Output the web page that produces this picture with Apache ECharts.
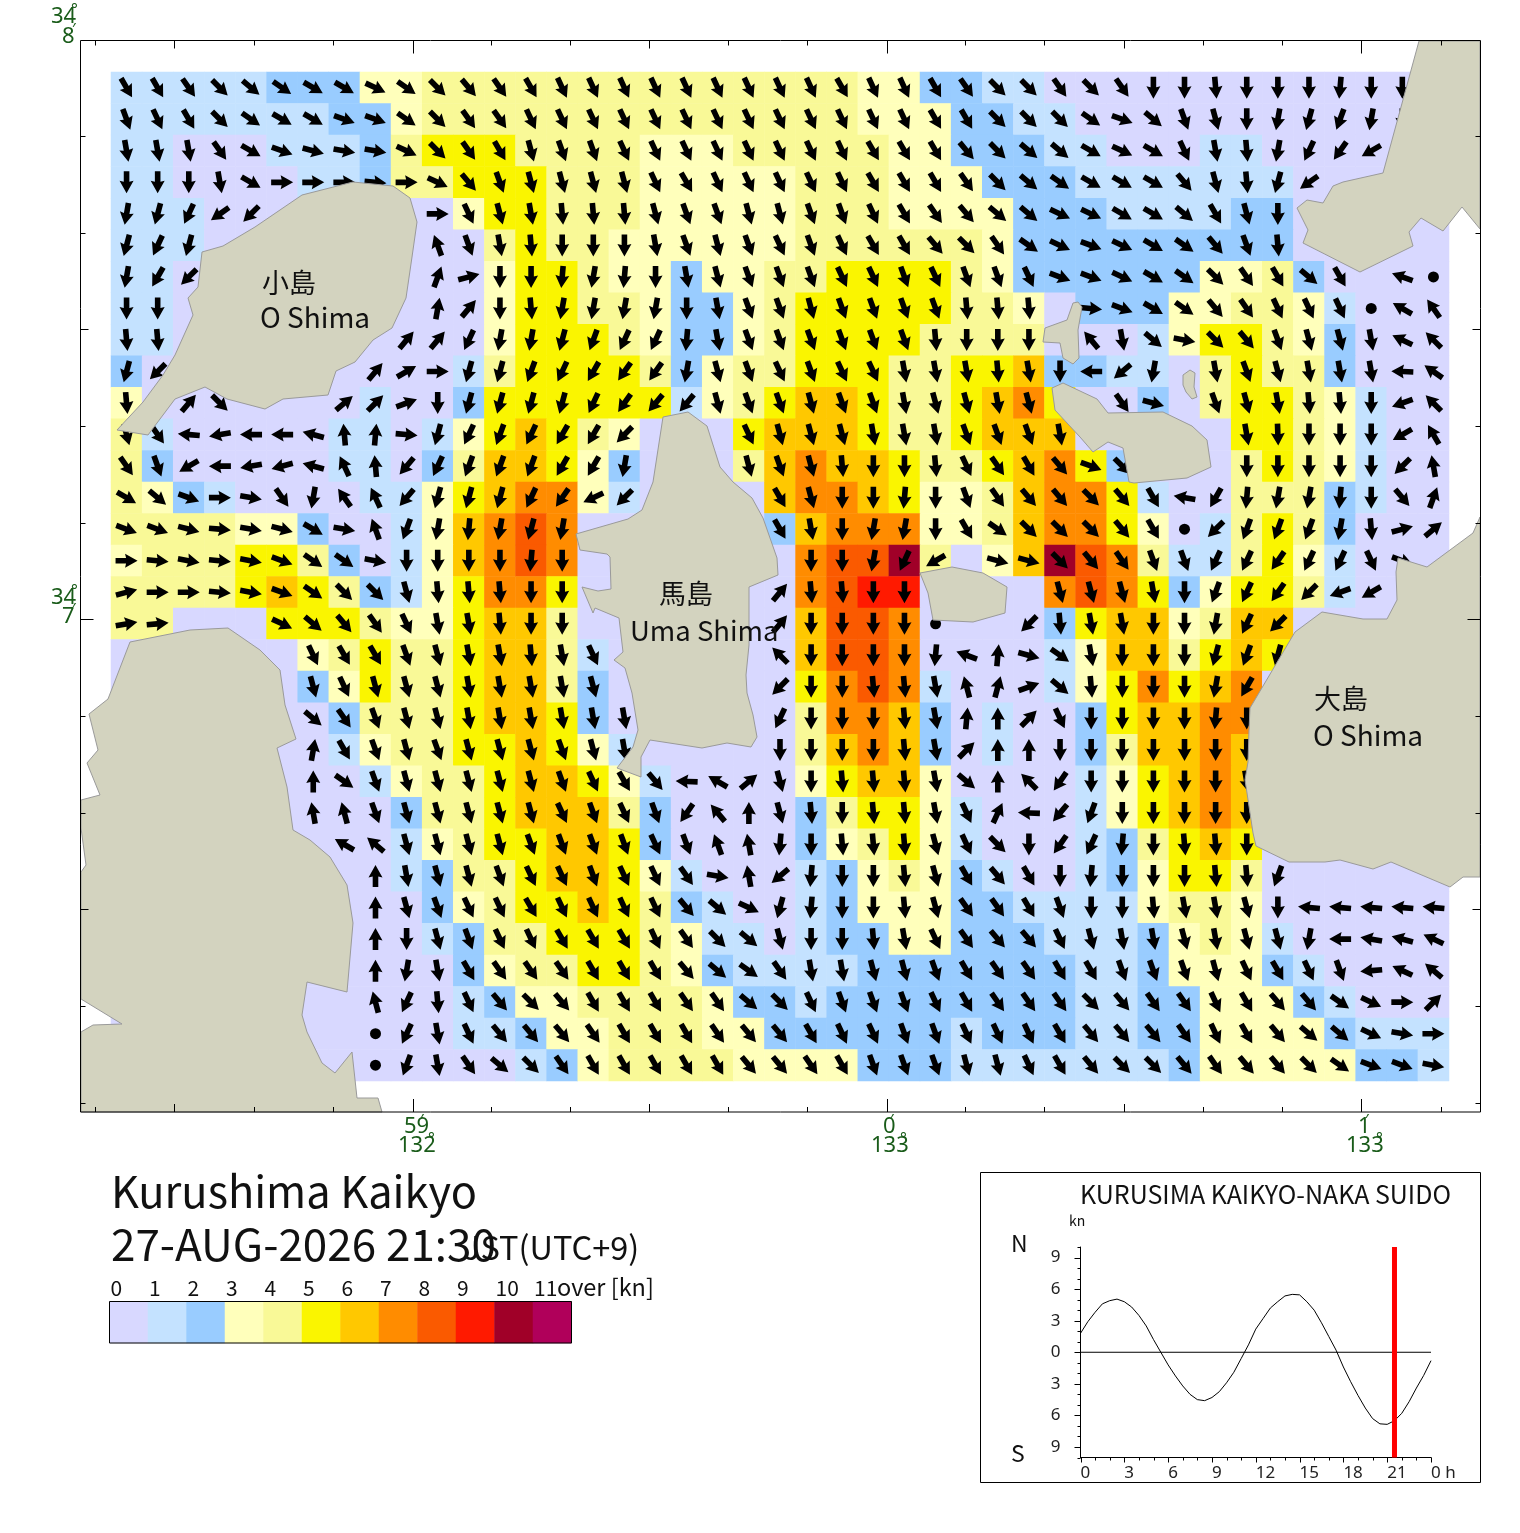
<!DOCTYPE html>
<html><head><meta charset="utf-8">
<style>html,body{margin:0;padding:0;background:#fff}#c{width:1520px;height:1533px}</style>
<script src="https://cdn.jsdelivr.net/npm/echarts@6/dist/echarts.min.js"></script>
</head><body><div id="c"></div>
<script>
const levelColors=['#D8D8FF','#C4E2FF','#99CCFF','#FFFFBB','#F9F997','#FAF500','#FFC800','#FF8C00','#FA5A00','#FF1A00','#A00028','#B0005A'];
const levelLabels=['0','1','2','3','4','5','6','7','8','9','10','11'];
// speed class per cell, row by row (a = class 10)
const speedRows=[
"1111122233444444444444443322110000000000000",
"1111111223444444444444443332211000000000000",
"1100011124555444433344444332221100011000000",
"1100001124455544433333444333222111111100000",
"1110000000035544433333444333322211112200000",
"1110000000004544333333444444322222222200000",
"1100000000003554332334455554322222233420000",
"1100000000003554432234555554430222334431000",
"1100000000003555432234555544440001355432000",
"2000000000014555542344555445562211045442000",
"3000000010025555551345665445675002045543100",
"4100000110135654300056665445666000005543100",
"4200000110246653200046766544567520004543100",
"4321000011356773100006776533467751004442100",
"4444332001367870000002677733467753014542000",
"3444554201367870000000788a4036a874114531000",
"4444565421357750000000789900007875235541000",
"4400055543356640000000688700002566346600000",
"0000003454456641000000688700001366456500000",
"0000002354456642000000578710001357567000000",
"0000000244456652000000477620100256677000000",
"0000000134455653100000467620100246676000000",
"0000000013445665310000356630000135676000000",
"0000000002445666420000245531000135676000000",
"0000000001345566520000234531000124565000000",
"0000000001244566531000123432100123554000000",
"0000000000234556542100123332211113443000000",
"0000000000124455543110122332221112343100000",
"0000000000023445543211112222222112333210000",
"0000000000012334444322122222222112233321000",
"0000000000011233444332222221222112233332111",
"0000000000000123444433332221111111233333221"
];
const _=null,O=-1; // O = slack water dot, _ = no arrow; others: heading in degrees
const dirRow00=[150,150,145,135,130,125,120,120,115,125,135,140,145,150,155,155,155,155,155,155,155,155,155,150,155,155,150,145,135,135,145,135,145,180,180,175,180,180,180,185,180,180,_];
const dirRow01=[160,155,150,135,125,120,120,110,110,125,135,145,145,155,155,155,155,155,155,155,155,155,155,155,155,155,150,150,135,135,135,125,110,130,160,165,180,190,195,200,190,180,_];
const dirRow02=[170,170,170,145,120,110,105,100,100,115,135,145,150,165,160,160,155,155,155,155,155,155,155,155,150,150,150,140,135,130,130,120,115,120,155,170,175,190,205,215,240,_,_];
const dirRow03=[180,180,180,170,120,90,90,90,95,90,115,140,160,165,165,165,165,155,150,155,155,155,155,155,150,150,150,145,135,130,125,120,120,120,140,165,175,195,235,_,_,_,_];
const dirRow04=[190,195,205,235,225,_,_,_,_,_,90,155,165,170,175,175,175,165,160,160,165,165,160,160,155,150,145,140,130,130,115,115,120,120,130,150,165,180,_,_,_,_,_];
const dirRow05=[195,205,195,_,_,_,_,_,_,_,340,160,170,175,180,180,180,170,160,165,160,155,160,155,150,150,140,135,145,125,115,110,115,120,125,140,160,175,_,_,_,_,_];
const dirRow06=[190,210,225,_,_,_,_,_,_,_,20,75,180,180,185,190,185,180,170,165,160,160,160,155,155,160,155,160,160,155,110,110,115,120,125,135,145,150,130,150,_,290,O];
const dirRow07=[180,180,_,_,_,_,_,_,_,_,10,40,180,175,190,190,190,190,180,170,160,160,165,160,160,160,160,175,175,175,_,95,110,120,125,140,145,155,155,155,O,300,325];
const dirRow08=[175,175,_,_,_,_,_,_,_,40,40,205,190,190,195,200,205,205,185,170,160,160,160,160,160,160,175,180,180,180,_,320,170,130,100,135,140,160,165,165,170,295,315];
const dirRow09=[195,225,_,_,_,_,_,_,40,60,90,195,195,200,205,210,215,215,190,165,160,155,160,155,155,170,170,170,175,170,180,270,230,190,_,170,160,165,170,170,170,272,305];
const dirRow10=[175,_,40,135,_,_,_,50,45,70,180,195,195,195,195,205,215,220,220,165,160,160,165,160,160,170,165,165,170,165,_,_,145,105,_,160,165,170,175,175,180,250,315];
const dirRow11=[165,145,275,260,270,270,285,355,5,95,195,205,200,205,210,210,225,_,_,_,155,165,165,165,170,170,170,160,160,160,170,_,_,_,_,_,170,178,180,180,180,240,330];
const dirRow12=[145,160,240,270,260,255,285,335,355,220,205,200,200,200,210,210,190,_,_,_,165,160,165,175,180,180,175,155,145,150,140,110,135,_,_,_,180,180,180,180,180,225,350];
const dirRow13=[120,130,110,90,100,145,190,325,335,220,195,195,195,205,215,245,225,_,_,_,_,150,165,180,180,185,180,160,145,140,140,135,140,150,280,210,185,190,190,185,180,140,20];
const dirRow14=[110,110,105,95,100,105,120,100,340,200,190,185,190,195,190,_,_,_,_,_,_,150,170,180,190,190,180,150,125,135,135,135,140,150,O,225,200,200,200,190,175,75,50];
const dirRow15=[90,95,100,95,100,110,125,125,100,180,180,180,180,185,180,_,_,_,_,_,_,_,180,180,190,205,240,_,105,105,135,140,145,160,160,205,205,215,205,205,155,110,_];
const dirRow16=[75,90,90,95,100,110,125,135,135,165,175,175,175,180,180,_,_,_,_,_,_,40,175,175,180,180,_,_,_,_,165,165,165,170,180,200,205,215,225,250,240,_,_];
const dirRow17=[80,85,_,_,_,115,130,140,145,155,170,170,175,180,180,_,_,_,_,_,_,40,180,180,180,180,O,_,_,225,175,170,170,180,180,190,205,225,_,_,_,_,_];
const dirRow18=[_,_,_,_,_,_,155,150,150,160,165,170,170,175,170,155,_,_,_,_,_,315,180,180,180,180,185,290,5,105,125,170,180,180,180,195,200,195,_,_,_,_,_];
const dirRow19=[_,_,_,_,_,_,165,155,165,165,165,170,170,170,170,165,_,_,_,_,_,225,180,180,175,175,170,345,15,70,130,175,180,180,180,190,210,_,_,_,_,_,_];
const dirRow20=[_,_,_,_,_,_,130,145,160,165,165,170,170,170,170,170,170,_,_,_,_,205,180,180,180,175,170,5,0,45,155,180,180,180,180,185,180,_,_,_,_,_,_];
const dirRow21=[_,_,_,_,_,_,10,150,160,165,160,165,165,165,160,165,170,_,_,_,_,180,180,180,180,175,170,45,0,0,180,180,180,180,180,180,180,_,_,_,_,_,_];
const dirRow22=[_,_,_,_,_,_,0,125,160,165,165,165,165,165,160,155,150,140,272,300,50,165,180,175,175,175,170,130,0,315,215,180,180,180,180,180,170,_,_,_,_,_,_];
const dirRow23=[_,_,_,_,_,_,350,345,160,165,165,165,165,165,155,160,155,160,215,320,0,165,175,180,175,175,170,155,25,272,220,200,180,180,180,180,180,_,_,_,_,_,_];
const dirRow24=[_,_,_,_,_,_,_,300,310,165,165,165,165,160,160,160,160,155,160,340,350,185,180,175,175,175,165,155,135,180,215,205,185,180,175,175,180,_,_,_,_,_,_];
const dirRow25=[_,_,_,_,_,_,_,_,0,170,165,165,160,155,155,160,155,155,145,100,350,230,185,180,180,175,165,150,140,150,180,185,180,180,180,175,175,200,_,_,_,_,_];
const dirRow26=[_,_,_,_,_,_,_,_,0,165,160,155,155,150,155,155,155,155,140,130,115,195,185,180,180,175,165,145,145,150,160,180,180,175,170,170,165,180,275,275,275,275,275];
const dirRow27=[_,_,_,_,_,_,_,_,0,180,165,160,155,155,150,150,150,155,145,135,130,165,180,180,175,170,155,145,140,140,155,165,170,170,165,170,165,165,190,270,280,285,295];
const dirRow28=[_,_,_,_,_,_,_,_,0,190,170,150,145,145,145,150,150,150,140,130,125,145,170,170,165,165,160,150,145,145,150,150,160,160,160,165,155,150,155,160,265,295,310];
const dirRow29=[_,_,_,_,_,_,_,_,345,205,175,155,140,135,140,150,150,150,145,145,130,135,155,160,160,160,155,150,145,145,145,135,140,145,145,155,150,140,140,125,115,90,45];
const dirRow30=[_,_,_,_,_,_,_,_,O,205,170,155,140,140,140,145,150,150,150,145,140,140,150,155,155,160,160,155,155,155,150,140,140,140,145,155,150,140,130,130,115,100,90];
const dirRow31=[_,_,_,_,_,_,_,_,O,200,170,145,130,135,145,150,150,150,150,150,140,140,145,150,160,160,160,165,165,155,150,140,135,135,140,145,140,140,135,125,110,110,100];
const dirRows=[dirRow00,dirRow01,dirRow02,dirRow03,dirRow04,dirRow05,dirRow06,dirRow07,dirRow08,dirRow09,dirRow10,dirRow11,dirRow12,dirRow13,dirRow14,dirRow15,dirRow16,dirRow17,dirRow18,dirRow19,dirRow20,dirRow21,dirRow22,dirRow23,dirRow24,dirRow25,dirRow26,dirRow27,dirRow28,dirRow29,dirRow30,dirRow31];

// coastline outlines, digitised in map-sheet units
const landOShimaSmall=[[353,182],[393,186],[410,198],[417,222],[412,257],[406,298],[392,328],[373,340],[355,362],[336,371],[328,395],[283,399],[265,409],[227,399],[205,387],[175,399],[148,435],[117,430],[143,402],[163,375],[175,355],[193,315],[188,298],[198,287],[202,252],[223,246],[255,227],[302,195]];
const landUmaShima=[[663,417],[688,412],[707,426],[720,467],[733,482],[752,498],[763,518],[777,558],[778,575],[749,587],[749,645],[746,675],[747,693],[753,715],[757,737],[751,747],[727,743],[702,748],[650,740],[641,757],[641,777],[617,768],[633,747],[638,730],[632,693],[625,668],[614,660],[623,652],[619,618],[595,608],[593,613],[582,587],[598,591],[611,589],[610,557],[607,554],[580,550],[576,534],[628,519],[642,510],[653,482]];
const landIsletMid=[[920,573],[952,567],[983,573],[1007,587],[1005,613],[973,622],[933,620],[928,593]];
const landEastIsle=[[1052,388],[1063,383],[1097,399],[1108,413],[1163,412],[1192,426],[1207,440],[1211,467],[1187,478],[1134,483],[1129,482],[1123,448],[1108,442],[1093,452],[1080,437],[1055,410]];
const landNorthIsle=[[1078,302],[1073,303],[1067,320],[1045,328],[1043,342],[1060,343],[1063,358],[1073,364],[1079,358],[1078,330],[1082,307]];
const landTinyIsle=[[1183,375],[1190,370],[1195,373],[1194,387],[1197,397],[1192,399],[1186,392],[1183,385]];
const landNorthEast=[[1419,41],[1383,173],[1343,182],[1333,186],[1323,203],[1307,200],[1297,208],[1308,230],[1303,243],[1360,272],[1413,246],[1409,232],[1421,218],[1443,231],[1462,207],[1480,229],[1480,41]];
const landOShimaBig=[[1480,517],[1473,533],[1427,567],[1398,558],[1396,572],[1397,600],[1387,619],[1363,619],[1322,612],[1295,632],[1250,708],[1249,730],[1248,762],[1245,780],[1247,793],[1253,833],[1256,846],[1289,862],[1325,862],[1340,860],[1373,869],[1391,862],[1450,887],[1463,877],[1480,877]];
const landSouthWest=[[130,642],[190,630],[228,628],[260,650],[280,670],[285,705],[296,739],[277,748],[287,787],[293,830],[310,840],[330,857],[347,885],[353,923],[347,992],[307,982],[302,1015],[307,1032],[322,1063],[335,1073],[352,1052],[357,1098],[378,1098],[382,1112],[81,1112],[81,1032],[93,1025],[122,1024],[81,999],[81,872],[86,865],[81,828],[81,800],[100,795],[87,763],[98,750],[93,730],[89,714],[108,699]];
const landShapes=[landOShimaSmall,landUmaShima,landIsletMid,landEastIsle,landNorthIsle,landTinyIsle,landNorthEast,landOShimaBig,landSouthWest];

const mapTickX=[95,174,254,333,412.5,491,570,649,728,807,886.5,965,1044,1124,1203,1282,1361,1441];
const mapTickXTier=[1,2,1,1,3,1,1,2,1,1,3,1,1,2,1,1,3,1];
const mapTickY=[136,233,329,426,523,619,716,813,909,1006,1103];
const mapTickYTier=[1,1,2,1,1,3,1,1,2,1,1];
const tierLength=[0,5,8,13];

const tideHours=[0,.5,1,1.5,2,2.5,3,3.5,4,4.5,5,5.5,6,6.5,7,7.5,8,8.5,9,9.5,10,10.5,11,11.5,12,12.5,13,13.5,14,14.5,15,15.5,16,16.5,17,17.5,18,18.5,19,19.5,20,20.5,21,21.5,22,22.5,23,23.5,24];
const tideKnots=[1.8,2.9,3.8,4.6,4.9,5.05,4.8,4.3,3.5,2.5,1.2,0,-1.2,-2.25,-3.2,-4,-4.5,-4.6,-4.3,-3.75,-2.9,-1.9,-.6,.7,2.2,3.2,4.2,4.8,5.35,5.5,5.45,4.8,4,2.8,1.5,.2,-1.4,-2.8,-4.1,-5.3,-6.3,-6.8,-6.85,-6.5,-5.8,-4.7,-3.4,-2.2,-.8];
const currentHour=21.5;
const tideHourTicks=[0,1,2,3,4,5,6,7,8,9,10,11,12,13,14,15,16,17,18,19,20,21,22,23,24];
const tideKnotTicks=[-10,-9,-8,-7,-6,-5,-4,-3,-2,-1,0,1,2,3,4,5,6,7,8,9,10];

const FONT='"Noto Sans CJK JP","Noto Sans",sans-serif';
const GREEN='#1a5c1a';
const ARROW='path://M7 0 L14 12.5 L9.8 11.5 L9.8 22 L4.2 22 L4.2 11.5 L0 12.5 Z';

const heatData=[],arrowData=[];
speedRows.forEach((row,j)=>{for(let i=0;i<43;i++){heatData.push([i,j,parseInt(row[i],16)]);
  const a=dirRows[j][i]; if(a!==null&&a!==undefined)arrowData.push([i,j,a]);}});

const txt=(text,x,y,size,extra)=>Object.assign({type:'text',z:200,silent:true,x,y,style:Object.assign({text,fill:'#111',font:size+'px '+FONT,textAlign:'left',textVerticalAlign:'middle'},extra||{})},{});
const green=(text,x,y,size,align)=>txt(text,x,y,size||22,{fill:GREEN,textAlign:align||'left',font:(size||22)+'px "Noto Sans",sans-serif'});

const texts=[
 txt('小島',262,283,27),txt('O Shima',260,317,28),
 txt('馬島',659,594,27),txt('Uma Shima',630,631,27.5),
 txt('大島',1314,699,27),txt('O Shima',1313,735,28),
 txt('Kurushima Kaikyo',111,1192,43.3),
 txt('27-AUG-2026 21:30',111,1244,44),
 txt('JST(UTC+9)',463,1248,32.5),
 txt('over [kn]',557,1287,23.5),
 txt('KURUSIMA KAIKYO-NAKA SUIDO',1080,1194,25),
 txt('kn',1069,1221,14),
 txt('N',1011,1243,23),txt('S',1011,1453,23),
 green('34',51,17),green('°',71,10,16),green('8',62,37),green('′',72,30,16),
 green('34',51,598),green('°',71,591,16),green('7',62,617),green('′',72,610,16),
 green('59',404,1127),green('′',420,1121,16),green('132',398,1146),green('°',428,1139,16),
 green('0',883,1127),green('′',890,1121,16),green('133',871,1146),green('°',900,1139,16),
 green('1',1358,1127),green('′',1365,1121,16),green('133',1346,1146),green('°',1376,1139,16),
];
levelLabels.forEach((t,i)=>texts.push(txt(t,110.5+38.5*i,1288,21,{})));
texts.push({type:'rect',z:150,silent:true,shape:{x:80.5,y:40.5,width:1400,height:1071.5},style:{fill:'none',stroke:'#000',lineWidth:1}});
texts.push({type:'rect',z:150,silent:true,shape:{x:980.5,y:1172.5,width:500,height:310},style:{fill:'none',stroke:'#000',lineWidth:1}});

const chart=echarts.init(document.getElementById('c'),null,{renderer:'canvas'});
chart.setOption({
 animation:false,backgroundColor:'#fff',
 grid:[
  {left:111,top:72,width:1338,height:1009},
  {left:80.5,top:40.5,width:1400,height:1071.5},
  {left:1080.5,top:1247,width:350.5,height:210.5},
  {left:109.5,top:1301.5,width:462,height:41.5,show:true,borderColor:'#000',borderWidth:1,z:5}
 ],
 xAxis:[
  {gridIndex:0,type:'category',data:Array.from({length:43},(v,i)=>i),show:false},
  {gridIndex:1,type:'value',min:80.5,max:1480.5,show:false},
  {gridIndex:2,type:'value',min:0,max:24,interval:3,position:'bottom',splitLine:{show:false},
   axisLine:{onZero:false,lineStyle:{color:'#000',width:1}},axisTick:{show:false},
   axisLabel:{show:true,showMinLabel:true,showMaxLabel:true,align:'left',margin:7,color:'#222',fontSize:17,fontFamily:'"Noto Sans",sans-serif',
     formatter:v=>v===24?'0 h':String(v)}},
  {gridIndex:3,type:'category',data:levelLabels,show:false}
 ],
 yAxis:[
  {gridIndex:0,type:'category',inverse:true,data:Array.from({length:32},(v,i)=>i),show:false},
  {gridIndex:1,type:'value',inverse:true,min:40.5,max:1112,show:false},
  {gridIndex:2,type:'value',min:-10,max:10,interval:1,splitLine:{show:false},
   axisLine:{onZero:false,lineStyle:{color:'#000',width:1}},axisTick:{show:false},
   axisLabel:{margin:20,color:'#222',fontSize:17,fontFamily:'"Noto Sans",sans-serif',hideOverlap:false,
     formatter:v=>(v%3===0)?String(Math.abs(v)):''}},
  {gridIndex:3,type:'category',data:['s'],show:false}
 ],
 visualMap:{show:false,type:'piecewise',seriesIndex:[0,1],dimension:2,
   pieces:levelColors.map((c,i)=>({value:i,color:c}))},
 graphic:{z:200,elements:texts},
 series:[
  {name:'speed',type:'heatmap',xAxisIndex:0,yAxisIndex:0,z:1,data:heatData,emphasis:{disabled:true},progressive:0},
  {name:'scale',type:'heatmap',xAxisIndex:3,yAxisIndex:3,z:1,data:levelColors.map((c,i)=>[i,0,i]),emphasis:{disabled:true}},
  {name:'current',type:'scatter',xAxisIndex:0,yAxisIndex:0,z:2,data:arrowData,silent:true,progressive:0,clip:false,
   symbol:v=>v[2]===O?'circle':ARROW,
   symbolSize:v=>v[2]===O?11:[14,22],
   symbolKeepAspect:false,
   symbolRotate:v=>v[2]===O?0:-v[2],
   itemStyle:{color:'#000',opacity:1}},
  {name:'land',type:'custom',xAxisIndex:1,yAxisIndex:1,z:3,silent:true,clip:false,
   data:landShapes.map(s=>s[0]),
   renderItem:(p,api)=>({type:'polygon',shape:{points:landShapes[p.dataIndex].map(q=>api.coord(q))},
     style:{fill:'#D3D3BF',stroke:'#9A9A9A',lineWidth:1}})},
  {name:'lonTicks',type:'custom',xAxisIndex:1,yAxisIndex:1,z:4,silent:true,clip:false,
   data:mapTickX.map((x,i)=>[x,mapTickXTier[i]]),
   renderItem:(p,api)=>{const x=Math.round(api.coord([api.value(0),40.5])[0])+.5,l=tierLength[api.value(1)];
     const t=api.coord([0,40.5])[1],b=api.coord([0,1112])[1];
     return {type:'group',children:[
       {type:'line',shape:{x1:x,y1:t,x2:x,y2:t+l},style:{stroke:'#000',lineWidth:1}},
       {type:'line',shape:{x1:x,y1:b,x2:x,y2:b-l},style:{stroke:'#000',lineWidth:1}}]};}},
  {name:'latTicks',type:'custom',xAxisIndex:1,yAxisIndex:1,z:4,silent:true,clip:false,
   data:mapTickY.map((y,i)=>[y,mapTickYTier[i]]),
   renderItem:(p,api)=>{const y=Math.round(api.coord([80.5,api.value(0)])[1])+.5,l=tierLength[api.value(1)];
     const a=api.coord([80.5,40.5])[0],b=api.coord([1480.5,40.5])[0];
     return {type:'group',children:[
       {type:'line',shape:{x1:a,y1:y,x2:a+l,y2:y},style:{stroke:'#000',lineWidth:1}},
       {type:'line',shape:{x1:b,y1:y,x2:b-l,y2:y},style:{stroke:'#000',lineWidth:1}}]};}},
  {name:'tide',type:'line',xAxisIndex:2,yAxisIndex:2,z:3,showSymbol:false,silent:true,smooth:false,
   data:tideHours.map((h,i)=>[h,tideKnots[i]]),lineStyle:{color:'#000',width:1}},
  {name:'zero',type:'line',xAxisIndex:2,yAxisIndex:2,z:3,showSymbol:false,silent:true,
   data:[[0,0],[24,0]],lineStyle:{color:'#000',width:1}},
  {name:'now',type:'line',xAxisIndex:2,yAxisIndex:2,z:4,showSymbol:false,silent:true,
   data:[[currentHour,-10],[currentHour,10]],lineStyle:{color:'#FF0000',width:5}},
  {name:'hourTicks',type:'custom',xAxisIndex:2,yAxisIndex:2,z:4,silent:true,clip:false,
   data:tideHourTicks.map(h=>[h,-10]),
   renderItem:(p,api)=>{const c=api.coord([api.value(0),-10]),l=api.value(0)%3===0?5:3,x=Math.round(c[0])+.5;
     return {type:'line',shape:{x1:x,y1:c[1],x2:x,y2:c[1]+l},style:{stroke:'#000',lineWidth:1}};}},
  {name:'knotTicks',type:'custom',xAxisIndex:2,yAxisIndex:2,z:4,silent:true,clip:false,
   data:tideKnotTicks.map(k=>[0,k]),
   renderItem:(p,api)=>{const c=api.coord([0,api.value(1)]),l=api.value(1)%3===0?6:3,y=Math.round(c[1])+.5;
     return {type:'line',shape:{x1:c[0],y1:y,x2:c[0]-l,y2:y},style:{stroke:'#000',lineWidth:1}};}}
 ]
});
</script></body></html>
